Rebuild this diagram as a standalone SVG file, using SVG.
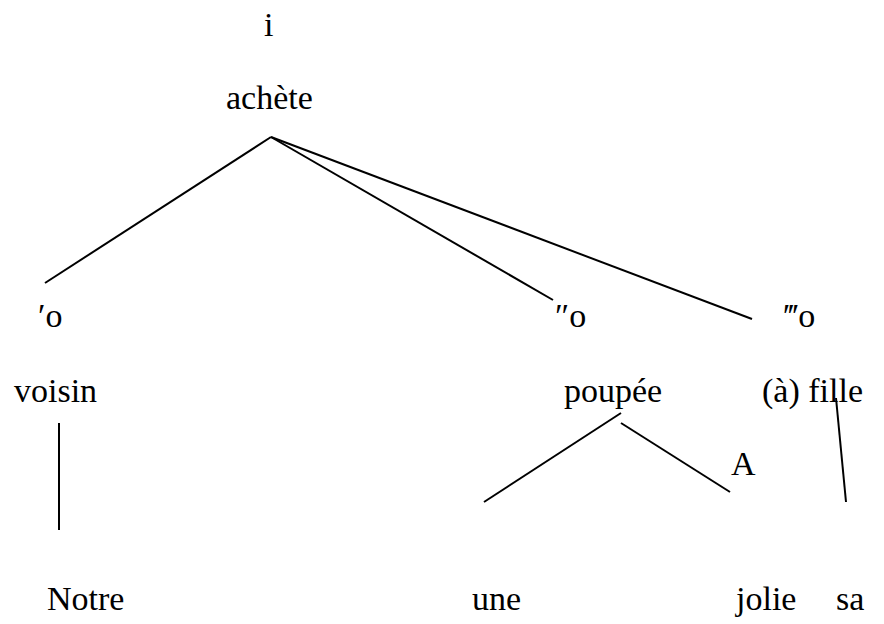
<svg xmlns="http://www.w3.org/2000/svg" width="884" height="624" viewBox="0 0 884 624">
  <style>
    .t { font-size: 34px; fill: #000; }
    .edge { stroke: #000; stroke-width: 2; fill: none; stroke-linecap: butt; }
  </style>
  <rect width="884" height="624" fill="#fff"/>

  <!-- connectors of the stemma -->
  <g id="connectors">
    <line class="edge" x1="271" y1="137" x2="45" y2="283"/>
    <line class="edge" x1="271" y1="137" x2="553" y2="300"/>
    <line class="edge" x1="271" y1="137" x2="752" y2="319"/>
    <line class="edge" x1="59" y1="423" x2="59" y2="530"/>
    <line class="edge" x1="621" y1="413" x2="484" y2="502"/>
    <line class="edge" x1="621" y1="423" x2="730" y2="492"/>
    <line class="edge" x1="836" y1="398" x2="846" y2="502"/>
  </g>

  <!-- nodes -->
  <g class="t" font-family="Liberation Serif, DejaVu Serif, serif">
    <g id="node-i"><text x="264" y="36">i</text></g>
    <g id="node-achete"><text x="226" y="109">achète</text></g>
    <g id="node-o1"><text x="38" y="327">′o</text></g>
    <g id="node-o2"><text x="555" y="327">″o</text></g>
    <g id="node-o3"><text x="784" y="327">‴o</text></g>
    <g id="node-voisin"><text x="14" y="402">voisin</text></g>
    <g id="node-poupee"><text x="564" y="402">poupée</text></g>
    <g id="node-fille"><text x="762" y="402">(à) fille</text></g>
    <g id="node-A"><text x="731" y="475">A</text></g>
    <g id="node-notre"><text x="47" y="610">Notre</text></g>
    <g id="node-une"><text x="472" y="610">une</text></g>
    <g id="node-jolie"><text x="736" y="610">jolie</text></g>
    <g id="node-sa"><text x="836" y="610">sa</text></g>
  </g>
</svg>
